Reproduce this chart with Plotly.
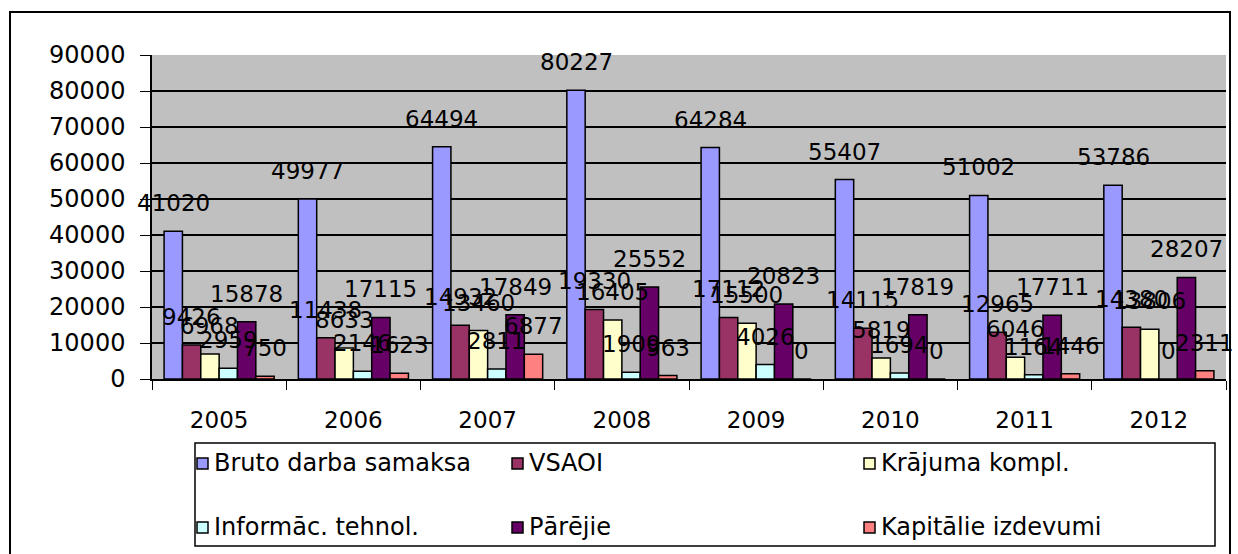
import plotly.graph_objects as go

years = ['2005', '2006', '2007', '2008', '2009', '2010', '2011', '2012']

bruto = [41020, 49977, 64494, 80227, 64284, 55407, 51002, 53786]
vsaoi = [9426, 11438, 14932, 19330, 17112, 14115, 12965, 14380]
krajuma = [6968, 8633, 13460, 16405, 15500, 5819, 6046, 13806]
inform = [2959, 2146, 2811, 1909, 4026, 1694, 1164, 0]
pareji = [15878, 17115, 17849, 25552, 20823, 17819, 17711, 28207]
kapital = [750, 1623, 6877, 963, 0, 0, 1446, 2311]

series = [
    ('Bruto darba samaksa', bruto, '#9999FF'),
    ('VSAOI', vsaoi, '#993366'),
    ('Krājuma kompl.', krajuma, '#FFFFCC'),
    ('Informāc. tehnol.', inform, '#CCFFFF'),
    ('Pārējie', pareji, '#660066'),
    ('Kapitālie izdevumi', kapital, '#FF8080'),
]

font = 'DejaVu Sans, sans-serif'

# plot area in pixels
L, R, T, B = 152, 1226, 55, 379
W, H = 1238, 554

def px(x):
    return (x - L) / (R - L)

def py(y):
    return (B - y) / (B - T)

bargap = 0.18
n = len(series)
bw = (1 - bargap) / n

# legend: icon left pixel, row centre pixel
leg_cols = [197, 512, 864]
leg_rows = [463, 527]

fig = go.Figure()
for i, (name, vals, col) in enumerate(series):
    fig.add_trace(go.Bar(
        x=years, y=vals, name=name,
        marker=dict(color=col, line=dict(color='black', width=1.5)),
    ))
    # data labels above each bar
    for j, v in enumerate(vals):
        fig.add_annotation(
            x=j - (1 - bargap) / 2 + (i + 0.5) * bw, y=v,
            text=str(v), showarrow=False, xanchor='center', yanchor='bottom',
            yshift=13, font=dict(family=font, size=23, color='black'),
        )
    # legend entry drawn by hand (icon + label)
    lx = leg_cols[i % 3]
    ly = leg_rows[i // 3]
    fig.add_shape(type='rect', xref='paper', yref='paper',
                  x0=px(lx), x1=px(lx + 11), y0=py(ly + 6), y1=py(ly - 5),
                  fillcolor=col, line=dict(color='black', width=1.5))
    fig.add_annotation(xref='paper', yref='paper', x=px(lx + 15), y=py(ly),
                       text=name, showarrow=False, xanchor='left', yanchor='middle',
                       font=dict(family=font, size=24, color='black'))

# outer chart border and legend box
fig.add_shape(type='rect', xref='paper', yref='paper',
              x0=px(10), x1=px(1230), y0=py(558), y1=py(12),
              line=dict(color='black', width=2), layer='below')
fig.add_shape(type='rect', xref='paper', yref='paper',
              x0=px(195), x1=px(1215), y0=py(546), y1=py(443),
              line=dict(color='black', width=1.5), layer='below')

fig.update_layout(
    width=W, height=H,
    margin=dict(l=L, r=W - R, t=T, b=H - B),
    paper_bgcolor='white', plot_bgcolor='#C0C0C0',
    barmode='group', bargap=bargap, bargroupgap=0,
    font=dict(family=font, size=22, color='black'),
    showlegend=False,
    xaxis=dict(
        showgrid=False, ticks='outside', tickson='boundaries', ticklen=9,
        tickcolor='black', showline=True, linecolor='black', linewidth=1.5,
        tickfont=dict(size=23), range=[-0.5, 7.5], ticklabelstandoff=20,
    ),
    yaxis=dict(
        range=[0, 90000], dtick=10000, showgrid=True, gridcolor='black',
        gridwidth=1.5, ticks='outside', ticklen=10, tickcolor='black',
        showline=True, linecolor='black', linewidth=1.5, zeroline=False,
        tickfont=dict(size=24), tickformat='d', ticklabelstandoff=10,
    ),
)

fig.write_html('out.html', config={'displayModeBar': False},
               post_script="document.body.style.margin='0';")
